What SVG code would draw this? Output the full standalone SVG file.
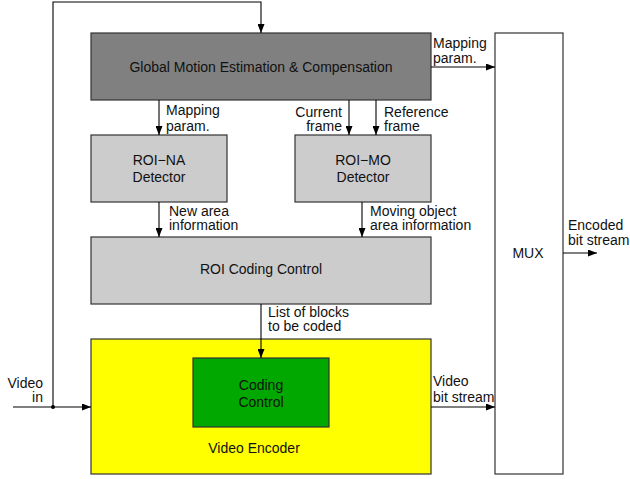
<svg xmlns="http://www.w3.org/2000/svg" width="630" height="479" viewBox="0 0 630 479">
<defs>
<marker id="ah" markerUnits="userSpaceOnUse" markerWidth="9" markerHeight="7" refX="9" refY="3.5" orient="auto">
<path d="M0,0 L9,3.5 L0,7 z" fill="#000"/>
</marker>
<style>
.box{stroke:#333;stroke-width:1.2}
.ln{fill:none;stroke:#000;stroke-width:1.1}
text{font-family:"Liberation Sans",Arial,sans-serif;font-size:14px;fill:#111}
.c{text-anchor:middle}
.r{text-anchor:end}
</style>
</defs>
<rect width="630" height="479" fill="#fff"/>
<g id="gme"><rect class="box" x="91" y="33" width="340" height="67" fill="#808080"/>
<text class="c" x="261" y="72">Global Motion Estimation &amp; Compensation</text></g>
<g id="roi-na"><rect class="box" x="91" y="135" width="136" height="67" fill="#cccccc"/>
<text class="c" x="159" y="165">ROI−NA</text><text class="c" x="159" y="181.5">Detector</text></g>
<g id="roi-mo"><rect class="box" x="295" y="135" width="136" height="67" fill="#cccccc"/>
<text class="c" x="363" y="165">ROI−MO</text><text class="c" x="363" y="181.5">Detector</text></g>
<g id="roi-cc"><rect class="box" x="91" y="237" width="340" height="67" fill="#cccccc"/>
<text class="c" x="261" y="274">ROI Coding Control</text></g>
<g id="video-encoder"><rect class="box" x="91" y="339" width="340" height="135" fill="#ffff00"/>
<text class="c" x="254" y="453">Video Encoder</text></g>
<g id="coding-control"><rect class="box" x="193" y="358" width="136" height="69" fill="#00a800"/>
<text class="c" x="261" y="390">Coding</text><text class="c" x="261" y="406.5">Control</text></g>
<g id="mux"><rect class="box" x="495" y="33" width="68" height="441" fill="#fff"/>
<text class="c" x="528" y="258">MUX</text></g>
<g id="connectors">
<path class="ln" d="M53,407 V2 H261 V33" marker-end="url(#ah)"/>
<path class="ln" d="M159,100 V135" marker-end="url(#ah)"/>
<path class="ln" d="M349,100 V135" marker-end="url(#ah)"/>
<path class="ln" d="M376,100 V135" marker-end="url(#ah)"/>
<path class="ln" d="M159,202 V237" marker-end="url(#ah)"/>
<path class="ln" d="M362,202 V237" marker-end="url(#ah)"/>
<path class="ln" d="M261,304 V358" marker-end="url(#ah)"/>
<path class="ln" d="M431,67 H495" marker-end="url(#ah)"/>
<path class="ln" d="M13,407 H91" marker-end="url(#ah)"/>
<path class="ln" d="M431,407 H495" marker-end="url(#ah)"/>
<path class="ln" d="M563,253 H597" marker-end="url(#ah)"/>
<circle cx="53" cy="407" r="2" fill="#000"/>
<text x="166" y="115">Mapping</text><text x="166" y="130.7">param.</text>
<text class="r" x="342" y="117">Current</text><text class="r" x="342" y="131">frame</text>
<text x="384" y="117">Reference</text><text x="384" y="131">frame</text>
<text x="433" y="47.7">Mapping</text><text x="433" y="63.3">param.</text>
<text x="169" y="216">New area</text><text x="169" y="230">information</text>
<text x="370" y="216">Moving object</text><text x="370" y="230">area information</text>
<text x="268" y="317">List of blocks</text><text x="268" y="331">to be coded</text>
<text class="r" x="43" y="388.3">Video</text><text class="r" x="43" y="402.3">in</text>
<text x="433" y="385.7">Video</text><text x="433" y="402.3">bit stream</text>
<text x="568" y="230">Encoded</text><text x="568" y="245">bit stream</text>
</g>
</svg>
